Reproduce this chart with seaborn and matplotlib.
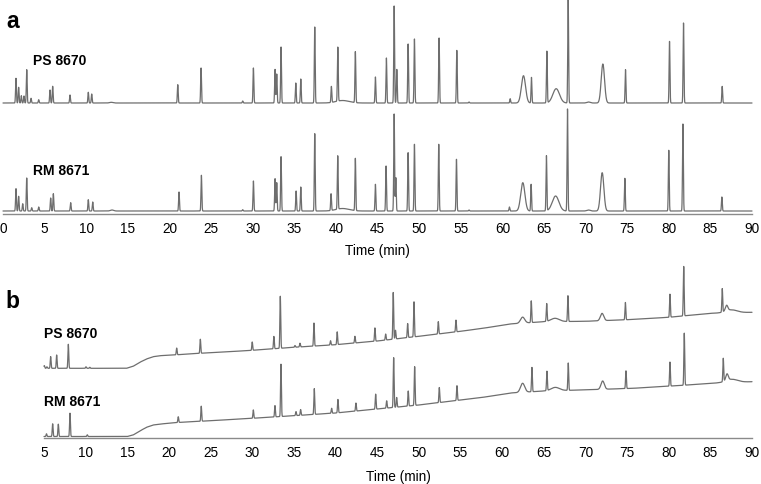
"""
GC chromatograms of PS 8670 and RM 8671, two column conditions (a, b).
"""

import numpy as np
import pandas as pd
import matplotlib
matplotlib.use("Agg")
import matplotlib.pyplot as plt
from matplotlib.ticker import MultipleLocator
import seaborn as sns

# ---- panel a: narrow peaks (retention time in min, height in detector units)
ps_a_time = [1.56, 1.88, 2.2, 2.52, 2.85, 3.37, 4.29, 5.65, 5.97, 8.05, 10.25, 10.66,
             21.0, 23.8, 28.8, 30.09, 32.69, 32.89, 33.41, 35.18, 35.78, 37.46, 39.46,
             40.23, 42.34, 44.75, 46.07, 47.0, 47.32, 48.68, 49.44, 52.4, 54.53, 56.0,
             60.94, 63.5, 65.35, 67.91, 74.8, 80.09, 81.77, 86.42]
ps_a_height = [24.7, 15.7, 7.3, 7.0, 33.3, 4.7, 3.3, 13.0, 16.7, 8.0, 10.7, 9.0,
               18.3, 35.0, 2.0, 35.0, 33.6, 29.0, 56.0, 20.0, 24.0, 76.0, 16.0,
               54.0, 51.0, 26.0, 45.0, 97.0, 33.6, 59.0, 64.0, 65.0, 52.6, 1.0,
               4.3, 25.6, 51.6, 104.0, 33.3, 61.6, 80.0, 16.6]
ps_a_broad_time = [13.0, 40.8, 62.54, 66.47, 70.35, 72.08]
ps_a_broad_height = [0.7, 2.5, 27.3, 14.3, 1.0, 39.0]
ps_a_broad_sigma = [0.2, 0.8, 0.25, 0.4, 0.2, 0.2]

rm_a_time = [1.56, 1.88, 2.37, 2.85, 3.45, 4.29, 5.73, 6.05, 8.13, 10.25, 10.78,
             21.15, 23.84, 28.8, 30.09, 32.69, 32.89, 33.41, 35.22, 35.78, 37.46, 39.42,
             40.22, 42.34, 44.75, 46.03, 47.0, 47.2, 48.68, 49.44, 52.36, 54.49, 56.0,
             60.85, 63.46, 65.3, 67.83, 74.72, 80.0, 81.7, 86.38]
rm_a_height = [22.3, 14.7, 7.3, 33.0, 3.3, 4.0, 13.0, 17.3, 8.3, 11.3, 9.0,
               19.0, 35.7, 1.3, 30.0, 32.3, 28.3, 54.3, 20.0, 24.0, 77.3, 16.7,
               53.3, 52.3, 26.7, 45.0, 97.0, 33.3, 58.3, 66.7, 66.7, 51.7, 1.0,
               4.0, 26.7, 55.0, 102.0, 32.7, 60.7, 87.0, 14.0]
rm_a_broad_time = [13.1, 40.8, 62.46, 66.4, 70.35, 72.0]
rm_a_broad_height = [1.0, 2.5, 28.3, 15.0, 1.0, 38.3]
rm_a_broad_sigma = [0.2, 0.8, 0.25, 0.4, 0.2, 0.2]

# ---- panel b: narrow peaks, broad peaks and baseline drift
ps_b_time = [5.04, 5.35, 5.8, 6.52, 7.92, 10.04, 10.5, 20.93, 23.77, 30.0, 32.6,
             33.37, 35.13, 35.73, 37.41, 39.4, 40.2, 42.33, 44.73, 46.02, 46.93,
             47.2, 48.66, 49.42, 52.34, 54.46, 63.5, 65.35, 67.9, 74.8, 80.15,
             81.8, 86.43]
ps_b_height = [2.7, 1.5, 11.7, 13.3, 24.0, 1.5, 1.0, 6.7, 14.0, 8.3, 12.3,
               52.0, 1.7, 3.7, 23.0, 4.3, 12.7, 6.7, 13.3, 6.0, 46.7,
               8.7, 14.0, 35.0, 12.3, 11.7, 21.7, 17.7, 25.7, 17.3, 23.0,
               49.4, 23.5]
ps_b_broad_time = [62.46, 66.35, 72.0, 86.95, 87.5]
ps_b_broad_height = [6.0, 3.3, 7.3, 5.5, 3.0]
ps_b_broad_sigma = [0.25, 0.5, 0.2, 0.15, 0.7]
ps_b_drift_time = [5, 14.9, 15.7, 16.5, 17.3, 18.1, 18.9, 20.5, 22.9, 25.7, 29.3, 35,
                   40, 45, 50, 55, 57.7, 60.9, 65, 70, 75, 80, 82, 85, 90]
ps_b_drift = [0, 0, 2.0, 6.0, 9.3, 11.6, 12.6, 13.3, 14.6, 16.0, 17.6, 21.0,
              23.6, 27.3, 32.0, 37.0, 40.0, 44.3, 46.6, 47.0, 48.6, 51.0, 52.6, 55.0, 56.0]

rm_b_time = [5.3, 6.04, 6.72, 8.12, 10.2, 21.12, 23.88, 30.13, 32.73, 33.45, 35.25,
             35.81, 37.45, 39.53, 40.29, 42.45, 44.82, 46.14, 46.98, 47.34, 48.73,
             49.5, 52.46, 54.58, 63.58, 65.38, 67.94, 74.87, 80.15, 81.87, 86.55]
rm_b_height = [2.7, 12.7, 12.3, 23.3, 1.7, 5.7, 15.0, 8.3, 11.3, 52.3, 4.0,
               5.7, 25.7, 5.0, 13.3, 8.0, 15.0, 7.3, 49.7, 9.7, 15.0,
               38.7, 15.0, 14.7, 24.3, 19.3, 27.3, 17.7, 24.0, 52.0, 23.3]
rm_b_broad_time = [62.46, 66.38, 72.07, 87.0, 87.55]
rm_b_broad_height = [9.0, 3.3, 8.3, 6.5, 3.2]
rm_b_broad_sigma = [0.25, 0.5, 0.2, 0.15, 0.7]
rm_b_drift_time = [5, 15, 15.7, 16.5, 17.3, 18.1, 19, 21, 25, 30, 35, 40, 45, 50,
                   55, 57.7, 61, 65, 69.3, 72, 75.7, 79.7, 82.2, 85.8, 90]
rm_b_drift = [0, 0, 1.5, 5.5, 9.2, 11.5, 12.5, 14.0, 15.8, 18.2, 20.8, 23.5, 27.5,
              31.5, 36.5, 39.2, 43.5, 45.5, 46.5, 47.2, 48.2, 50.2, 51.5, 53.5, 54.8]

NARROW_SIGMA = 0.05
LINE_COLOR = "#6e6e6e"
AXIS_COLOR = "#8a8a8a"
TEXT_COLOR = "black"


def build_trace(t, times, heights, broad_t, broad_h, broad_s,
                drift_t=None, drift_v=None, offset=0.0):
    """Sum of Gaussian peaks on top of an (optional) drifting baseline."""
    y = np.full_like(t, offset)
    for c, h in zip(times, heights):
        y += h * np.exp(-0.5 * ((t - c) / NARROW_SIGMA) ** 2)
    for c, h, s in zip(broad_t, broad_h, broad_s):
        y += h * np.exp(-0.5 * ((t - c) / s) ** 2)
    if drift_t is not None:
        y += np.interp(t, drift_t, drift_v)
    return y


def style_axis(ax, xmin, height, labelpad):
    ax.set_xlim(xmin, 90)
    ax.set_ylim(0, height)
    for side in ["left", "top", "right"]:
        ax.spines[side].set_visible(False)
    ax.spines["bottom"].set_color(AXIS_COLOR)
    ax.spines["bottom"].set_linewidth(1.0)
    ax.set_yticks([])
    ax.set_ylabel("")
    ax.xaxis.set_major_locator(MultipleLocator(5))
    ax.xaxis.set_minor_locator(MultipleLocator(1))
    ax.tick_params(axis="x", which="major", direction="out", length=3.5, width=0.8,
                   color=AXIS_COLOR, labelsize=9.8, pad=1.5, labelcolor=TEXT_COLOR)
    ax.tick_params(axis="x", which="minor", direction="out", length=2.0, width=0.7,
                   color=AXIS_COLOR)
    ax.set_xlabel("Time (min)", fontsize=9.8, labelpad=labelpad, color=TEXT_COLOR)
    ax.patch.set_alpha(0)


sns.set_theme(style="white")
plt.rcParams["font.family"] = ["Liberation Sans", "DejaVu Sans"]

W, H = 761, 485
fig = plt.figure(figsize=(W / 100, H / 100), dpi=100)

# panel a: x 0..90 spans px 3..752, spine at px 215 from top
ax_a = fig.add_axes([3 / W, (H - 215) / H, 749 / W, 215 / H])
t_a = np.arange(0, 90.001, 0.01)
ps_a = build_trace(t_a, ps_a_time, ps_a_height, ps_a_broad_time, ps_a_broad_height,
                   ps_a_broad_sigma, offset=111)
rm_a = build_trace(t_a, rm_a_time, rm_a_height, rm_a_broad_time, rm_a_broad_height,
                   rm_a_broad_sigma, offset=3)
df_a = pd.DataFrame({"time": np.concatenate([t_a, t_a]),
                     "signal": np.concatenate([ps_a, rm_a]),
                     "sample": ["PS 8670"] * len(t_a) + ["RM 8671"] * len(t_a)})
sns.lineplot(data=df_a, x="time", y="signal", hue="sample", units="sample",
             estimator=None, palette=[LINE_COLOR, LINE_COLOR], lw=0.9,
             legend=False, ax=ax_a, clip_on=False)
style_axis(ax_a, 0, 215, labelpad=5.5)
ax_a.text(3.6, 215 - 65, "PS 8670", fontsize=10, fontweight="bold",
          va="baseline", color=TEXT_COLOR)
ax_a.text(3.6, 215 - 175, "RM 8671", fontsize=10, fontweight="bold",
          va="baseline", color=TEXT_COLOR)

# panel b: x 5..90 spans px 44..752, spine at px 439.3
b_top = 262
b_spine = 439.3
ax_b = fig.add_axes([44 / W, (H - b_spine) / H, 708 / W, (b_spine - b_top) / H])
t_b = np.arange(5, 90.001, 0.01)
ps_b = build_trace(t_b, ps_b_time, ps_b_height, ps_b_broad_time, ps_b_broad_height,
                   ps_b_broad_sigma, ps_b_drift_time, ps_b_drift, offset=70)
rm_b = build_trace(t_b, rm_b_time, rm_b_height, rm_b_broad_time, rm_b_broad_height,
                   rm_b_broad_sigma, rm_b_drift_time, rm_b_drift, offset=1.8)
df_b = pd.DataFrame({"time": np.concatenate([t_b, t_b]),
                     "signal": np.concatenate([ps_b, rm_b]),
                     "sample": ["PS 8670"] * len(t_b) + ["RM 8671"] * len(t_b)})
sns.lineplot(data=df_b, x="time", y="signal", hue="sample", units="sample",
             estimator=None, palette=[LINE_COLOR, LINE_COLOR], lw=0.9,
             legend=False, ax=ax_b, clip_on=False)
style_axis(ax_b, 5, b_spine - b_top, labelpad=7.2)
ax_b.text(5.0, b_spine - 338, "PS 8670", fontsize=10, fontweight="bold",
          va="baseline", color=TEXT_COLOR)
ax_b.text(5.0, b_spine - 406, "RM 8671", fontsize=10, fontweight="bold",
          va="baseline", color=TEXT_COLOR)

# panel letters
fig.text(6 / W, 1 - 28 / H, "a", fontsize=16.5, fontweight="bold",
         va="baseline", color=TEXT_COLOR)
fig.text(5 / W, 1 - 308 / H, "b", fontsize=16.5, fontweight="bold",
         va="baseline", color=TEXT_COLOR)

fig.savefig("out.png", dpi=100)
plt.close(fig)
